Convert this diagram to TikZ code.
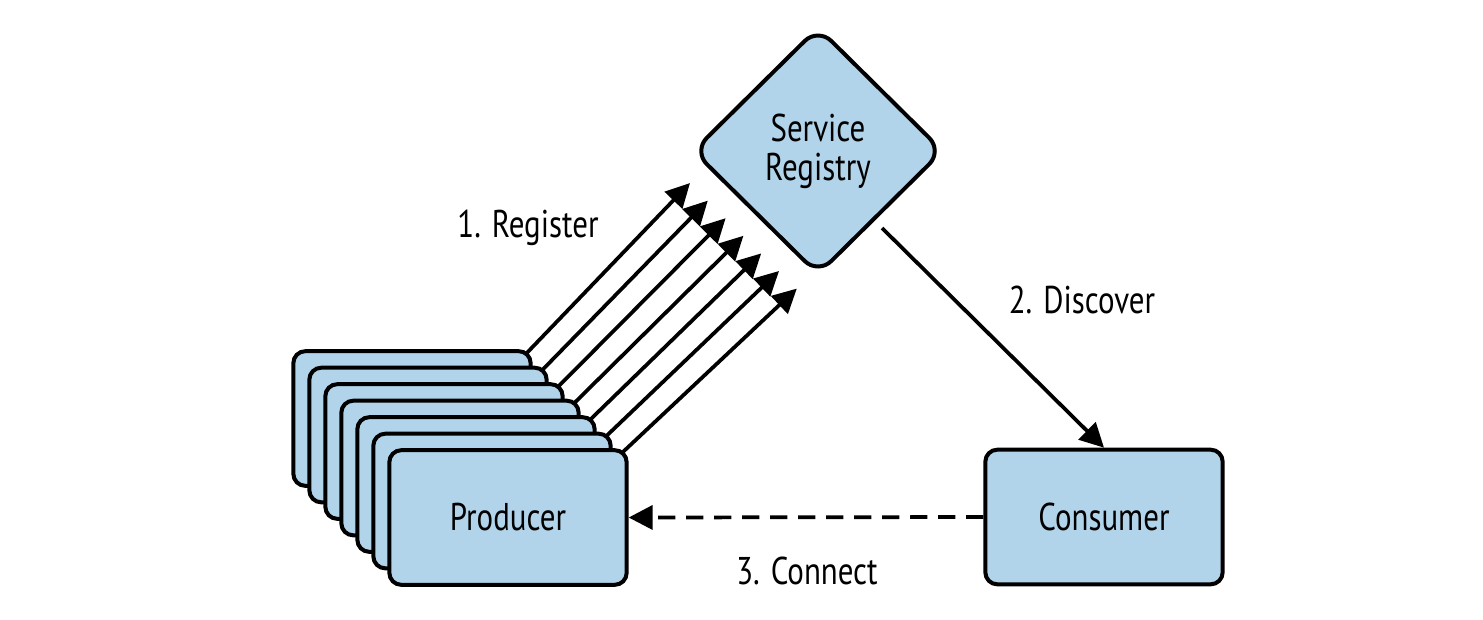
\documentclass[tikz,border=0pt]{standalone}
\usepackage{fontspec}
\setmainfont{PT Sans}[FakeStretch=0.8]
\usetikzlibrary{arrows.meta,shapes.geometric,calc}
\definecolor{boxblue}{HTML}{B1D4EA}
\begin{document}
\begin{tikzpicture}[x=0.75pt,y=-0.75pt,
  box/.style={draw=black,line width=3pt,fill=boxblue,rounded corners=9pt,minimum width=178pt,minimum height=101pt,inner sep=0pt},
  lbl/.style={font=\fontsize{29}{33}\selectfont},
  arr/.style={line width=2.8pt,-{Triangle[length=18pt,width=18pt]}}]
\useasboundingbox (0,0) rectangle (1483,619);
% producer stack
\foreach \k in {0,...,6}{
  \node[box] (p\k) at ({508+(\k-6)*16},{517.5+(\k-6)*16.5}) {};
}
\node[lbl] at (p6) {Producer};
\foreach \k in {0,...,6}{
  \coordinate (t\k) at ({690+\k*17.8},{183+\k*17.6});
  \draw[arr] ($(p\k.north east)+(-7,5)$) -- (t\k);
}
% registry
\node[draw=black,line width=3pt,fill=boxblue,diamond,rounded corners=14pt,minimum width=188pt,minimum height=186pt,inner sep=0pt,align=center,lbl] (reg) at (818,151) {Service\\[-4pt]Registry};
% consumer
\node[box,lbl] (con) at (1104,517) {Consumer};
\coordinate (d1) at (882,228);
\draw[arr] (d1) -- (con.north);
\draw[line width=2.8pt,dash pattern=on 13pt off 8pt,-{Triangle[length=18pt,width=18pt]}] (con.west) -- (p6.east);
\node[lbl] at (528,228) {1. Register};
\node[lbl] at (1082,300) {2. Discover};
\node[lbl] at (807,571) {3. Connect};
\end{tikzpicture}
\end{document}
